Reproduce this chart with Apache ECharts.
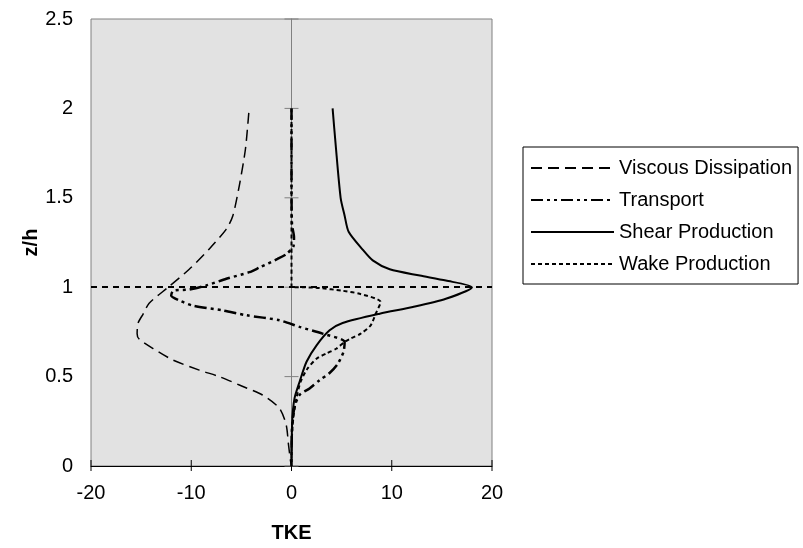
<!DOCTYPE html>
<html>
<head>
<meta charset="utf-8">
<script src="https://cdn.jsdelivr.net/npm/echarts@6/dist/echarts.min.js"></script>
<style>
  html, body { margin: 0; padding: 0; background: #ffffff; }
  #chart { width: 803px; height: 548px; }
</style>
</head>
<body>
<div id="chart"></div>
<script>
// TKE budget profiles: each term as (TKE, z/h) pairs
const viscousTKE = [-4.26, -4.6, -5.2, -5.85, -6.5, -8.2, -10.2, -12.3, -14.2, -14.8, -15.3, -15.4, -15.2, -13.8, -11.8, -9.2, -7.2, -5.2, -2.9, -1.2, -0.53, -0.3, -0.1, 0];
const viscousZ   = [1.975, 1.77, 1.57, 1.40, 1.325, 1.214, 1.10, 1.0, 0.91, 0.85, 0.80, 0.74, 0.71, 0.657, 0.592, 0.536, 0.50, 0.453, 0.397, 0.323, 0.23, 0.12, 0.03, 0];

const transportTKE = [0, 0, 0.05, 0.25, 0.2, -0.5, -1.4, -3.2, -4.2, -6.5, -8.5, -10.2, -11.8, -12.0, -11.2, -9.9, -6.85, -4.5, -1.2, 0.8, 3.1, 5.3, 5.2, 4.6, 3.8, 2.8, 1.8, 0.8, 0.3, 0.05, 0];
const transportZ   = [2.0, 1.6, 1.35, 1.28, 1.23, 1.186, 1.158, 1.11, 1.084, 1.047, 1.01, 0.987, 0.98, 0.954, 0.926, 0.898, 0.87, 0.843, 0.815, 0.778, 0.74, 0.694, 0.64, 0.57, 0.52, 0.48, 0.434, 0.397, 0.33, 0.21, 0];

const shearTKE = [4.1, 4.4, 4.9, 5.3, 5.7, 7.1, 8.1, 9.8, 12.8, 15.4, 18.0, 15.4, 12.1, 8.8, 5.1, 3.8, 2.5, 1.5, 0.8, 0.3, 0.07, 0];
const shearZ   = [2.0, 1.8, 1.5, 1.4, 1.31, 1.21, 1.15, 1.10, 1.065, 1.037, 1.0, 0.935, 0.889, 0.852, 0.80, 0.759, 0.675, 0.583, 0.47, 0.378, 0.25, 0];

const wakeTKE = [0, 0, 1.1, 2.8, 5.1, 6.8, 8.9, 8.4, 7.9, 6.9, 5.9, 5.3, 4.5, 3.5, 2.5, 1.6, 0.9, 0.5, 0.2, 0.03, 0];
const wakeZ   = [2.0, 1.0, 1.0, 0.995, 0.98, 0.963, 0.917, 0.852, 0.787, 0.74, 0.713, 0.694, 0.657, 0.63, 0.60, 0.545, 0.47, 0.38, 0.28, 0.15, 0];

// canopy top marker
const canopyTop = 1.0;

// axis tick values
const xTickValues = [-20, -10, 0, 10, 20];
const zTickValues = [0, 0.5, 1.0, 1.5, 2.0, 2.5];

const seriesNames = ['Viscous Dissipation', 'Transport', 'Shear Production', 'Wake Production'];

const FONT = '"Liberation Sans", Arial, sans-serif';

function pairs(xs, zs) {
  return xs.map((x, i) => [x, zs[i]]);
}

const chart = echarts.init(document.getElementById('chart'), null, { renderer: 'canvas' });

const option = {
  animation: false,
  backgroundColor: '#ffffff',
  color: ['#000000', '#000000', '#000000', '#000000'],
  textStyle: { fontFamily: FONT },
  grid: {
    left: 91, right: 311, top: 19, bottom: 80,
    show: true,
    backgroundColor: '#e2e2e2',
    borderColor: '#808080',
    borderWidth: 1
  },
  legend: {
    data: seriesNames,
    orient: 'vertical',
    left: 523,
    top: 147,
    itemWidth: 83,
    itemHeight: 14,
    itemGap: 12,
    padding: [11, 6, 10, 7],
    backgroundColor: '#ffffff',
    borderColor: '#000000',
    borderWidth: 1,
    selectedMode: false,
    itemStyle: { opacity: 0 },
    textStyle: { fontSize: 20, color: '#000000', fontFamily: FONT }
  },
  xAxis: {
    type: 'value',
    min: -20, max: 20, interval: 10,
    name: 'TKE',
    nameLocation: 'middle',
    nameGap: 57,
    nameTextStyle: { fontSize: 20, fontWeight: 'bold', color: '#000000', fontFamily: FONT },
    axisLine: { onZero: false, lineStyle: { color: '#000000', width: 1 } },
    axisTick: { show: false },
    axisLabel: { fontSize: 20, color: '#000000', margin: 17, fontFamily: FONT },
    splitLine: { show: false }
  },
  yAxis: [
    {
      type: 'value',
      min: 0, max: 2.5, interval: 0.5,
      position: 'left',
      name: 'z/h',
      nameLocation: 'middle',
      nameGap: 46,
      nameRotate: 90,
      nameTextStyle: { fontSize: 20, fontWeight: 'bold', color: '#000000', fontFamily: FONT },
      axisLine: { show: false, onZero: false },
      axisTick: { show: false },
      axisLabel: { fontSize: 20, color: '#000000', margin: 18, fontFamily: FONT },
      splitLine: { show: false }
    },
    {
      type: 'value',
      min: 0, max: 2.5, interval: 0.5,
      axisLine: { show: true, onZero: true, lineStyle: { color: '#808080', width: 1 } },
      axisTick: { show: false },
      axisLabel: { show: false },
      splitLine: { show: false }
    }
  ],
  series: [
    {
      name: 'Viscous Dissipation',
      type: 'line',
      data: pairs(viscousTKE, viscousZ),
      symbol: 'none',
      smooth: 0.25,
      lineStyle: { color: '#000000', width: 1.5, type: [11, 6] },
      z: 3
    },
    {
      name: 'Transport',
      type: 'line',
      data: pairs(transportTKE, transportZ),
      symbol: 'none',
      smooth: 0.25,
      lineStyle: { color: '#000000', width: 2.5, type: [12, 4, 3, 4, 3, 4] },
      z: 3
    },
    {
      name: 'Shear Production',
      type: 'line',
      data: pairs(shearTKE, shearZ),
      symbol: 'none',
      smooth: 0.25,
      lineStyle: { color: '#000000', width: 2 },
      z: 3
    },
    {
      name: 'Wake Production',
      type: 'line',
      data: pairs(wakeTKE, wakeZ),
      symbol: 'none',
      smooth: 0.25,
      lineStyle: { color: '#000000', width: 2, type: [4, 3] },
      markLine: {
        silent: true,
        symbol: ['none', 'none'],
        label: { show: false },
        lineStyle: { color: '#000000', width: 2, type: [6, 5] },
        data: [{ yAxis: canopyTop }]
      },
      z: 3
    },
    {
      // cross ticks on the centre z-axis
      name: 'zTicks',
      type: 'custom',
      silent: true,
      data: zTickValues.map(v => [0, v]),
      renderItem: function (params, api) {
        const p = api.coord([api.value(0), api.value(1)]);
        return {
          type: 'line',
          shape: { x1: p[0] - 7, y1: p[1], x2: p[0] + 7, y2: p[1] },
          style: { stroke: '#808080', lineWidth: 1 }
        };
      },
      z: 2
    },
    {
      // cross ticks on the TKE axis
      name: 'xTicks',
      type: 'custom',
      silent: true,
      data: xTickValues.map(v => [v, 0]),
      renderItem: function (params, api) {
        const p = api.coord([api.value(0), api.value(1)]);
        return {
          type: 'line',
          shape: { x1: p[0], y1: p[1] - 6, x2: p[0], y2: p[1] + 5 },
          style: { stroke: '#000000', lineWidth: 1 }
        };
      },
      z: 2
    }
  ]
};

chart.setOption(option);
</script>
</body>
</html>
